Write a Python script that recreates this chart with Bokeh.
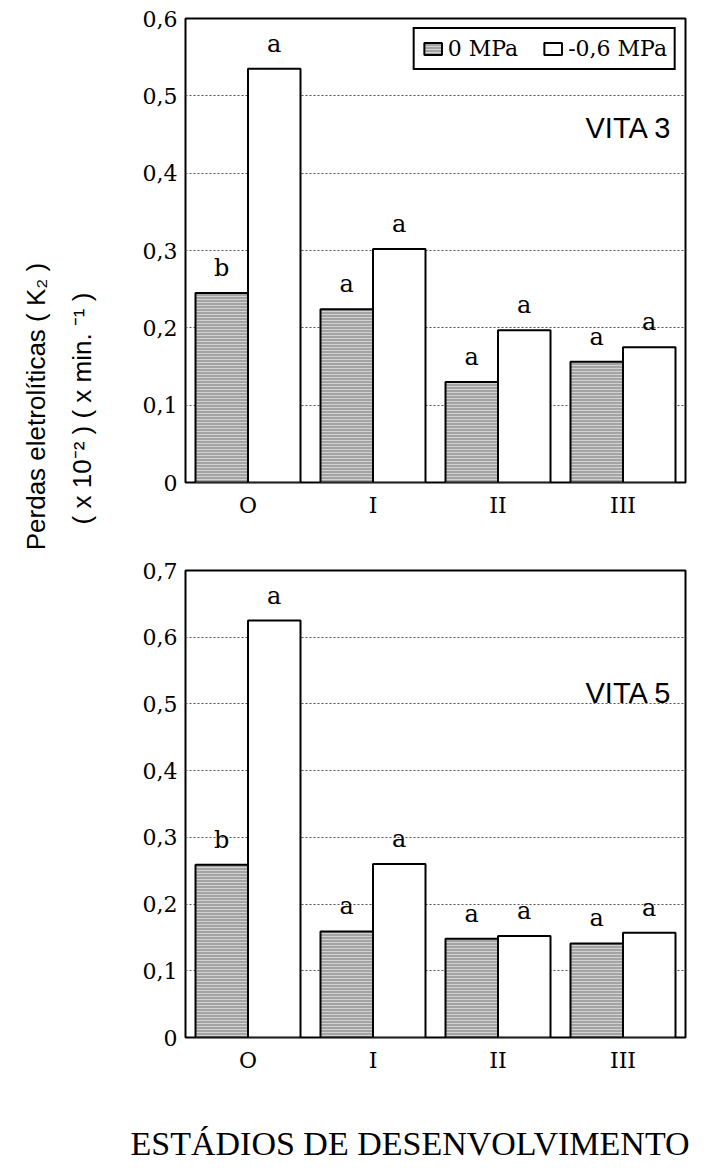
from bokeh.plotting import figure
from bokeh.models import (ColumnDataSource, FactorRange, Range1d, FixedTicker, Label,
                          Legend, LegendItem, Title)
from bokeh.layouts import row, column
from bokeh.transform import dodge
from bokeh.core.properties import value
from bokeh.embed import file_html
from bokeh.resources import INLINE
import math

# ---------------- data ----------------
stages = ["O", "I", "II", "III"]
series_names = ["0 MPa", "-0,6 MPa"]

vita3_0mpa = [0.245, 0.224, 0.130, 0.156]
vita3_06mpa = [0.535, 0.302, 0.197, 0.175]
vita3_let_0 = ["b", "a", "a", "a"]
vita3_let_06 = ["a", "a", "a", "a"]

vita5_0mpa = [0.259, 0.159, 0.148, 0.141]
vita5_06mpa = [0.625, 0.260, 0.152, 0.157]
vita5_let_0 = ["b", "a", "a", "a"]
vita5_let_06 = ["a", "a", "a", "a"]

yticks_top = [0, 0.1, 0.2, 0.3, 0.4, 0.5, 0.6]
ylabels_top = ["0", "0,1", "0,2", "0,3", "0,4", "0,5", "0,6"]
yticks_bot = [0, 0.1, 0.2, 0.3, 0.4, 0.5, 0.6, 0.7]
ylabels_bot = ["0", "0,1", "0,2", "0,3", "0,4", "0,5", "0,6", "0,7"]

SERIF = "DejaVu Serif"
GREY = "#a3a3a3"


def panel(v0, v6, l0, l6, ymax, yticks, ylabels, title, height, bt, bb, title_y, legend=False):
    src = ColumnDataSource(dict(stage=stages, v0=v0, v6=v6, l0=l0, l6=l6))
    p = figure(x_range=FactorRange(*stages), y_range=Range1d(0, ymax),
               width=600, height=height, min_border_left=77, min_border_right=23,
               min_border_top=bt, min_border_bottom=bb,
               output_backend="svg", toolbar_location=None)
    p.x_range.range_padding = 0
    g = p.vbar(x=dodge("stage", -0.21, range=p.x_range), top="v0", width=0.42, source=src,
               fill_color=GREY, hatch_pattern="horizontal_line", hatch_color="#d2d2d2",
               hatch_scale=3, hatch_weight=1, line_color="black", line_width=2)
    w = p.vbar(x=dodge("stage", 0.21, range=p.x_range), top="v6", width=0.42, source=src,
               fill_color="white", line_color="black", line_width=2)
    for col, off, top in (("l0", -0.21, "v0"), ("l6", 0.21, "v6")):
        p.text(x=dodge("stage", off, range=p.x_range), y=top, text=col, source=src,
               text_align="center", text_baseline="bottom", y_offset=-11,
               text_font=value(SERIF), text_font_size="24px", text_color="black")

    p.outline_line_color = "black"
    p.outline_line_width = 2
    p.xgrid.grid_line_color = None
    p.ygrid.ticker = FixedTicker(ticks=yticks)
    p.ygrid.grid_line_color = "#555555"
    p.ygrid.grid_line_dash = "2 2"
    p.ygrid.grid_line_width = 1

    p.yaxis.ticker = FixedTicker(ticks=yticks)
    p.yaxis.major_label_overrides = dict(zip(yticks, ylabels))
    for ax in (p.xaxis[0], p.yaxis[0]):
        ax.axis_line_color = None
        ax.major_tick_line_color = None
        ax.minor_tick_line_color = None
        ax.major_tick_out = 0
        ax.major_tick_in = 0
        ax.major_label_text_font = SERIF
        ax.major_label_text_color = "black"
    p.yaxis.major_label_text_font_size = "22px"
    p.yaxis.major_label_standoff = 8
    p.xaxis.major_label_text_font_size = "22px"
    p.xaxis.major_label_standoff = 10

    p.add_layout(Label(x=3.2, y=title_y, text=title, text_font="Liberation Sans",
                       text_font_size="29px", text_baseline="middle", text_align="left",
                       text_color="black"))
    if legend:
        lg = Legend(items=[LegendItem(label=series_names[0], renderers=[g]),
                           LegendItem(label=series_names[1], renderers=[w])],
                    orientation="horizontal", location="top_right",
                    border_line_color="black", border_line_width=2, border_line_alpha=1,
                    label_text_font=SERIF, label_text_font_size="22px",
                    label_text_color="black",
                    glyph_width=22, glyph_height=15, label_standoff=4, spacing=24,
                    padding=7, margin=9, background_fill_alpha=1)
        p.add_layout(lg)
    return p


p1 = panel(vita3_0mpa, vita3_06mpa, vita3_let_0, vita3_let_06, 0.6, yticks_top, ylabels_top,
           "VITA  3", 556, 18, 74, 0.459, legend=True)
p2 = panel(vita5_0mpa, vita5_06mpa, vita5_let_0, vita5_let_06, 0.7, yticks_bot, ylabels_bot,
           "VITA  5", 612, 14, 131, 0.516)

# x-axis title under the lower panel
p2.xaxis.axis_label = " "
p2.xaxis.axis_label_text_font_size = "10px"
p2.xaxis.axis_label_standoff = 28
p2.add_layout(Title(text="ESTÁDIOS DE DESENVOLVIMENTO", align="left", offset=-55,
                    text_font="Liberation Serif", text_font_size="34px",
                    text_font_style="normal", text_color="black"), "below")

# left strip with the y-axis title (page coordinates)
lab = figure(width=108, height=1168, x_range=Range1d(0, 108), y_range=Range1d(1168, 0),
             x_axis_location=None, y_axis_location=None, min_border=0,
             output_backend="svg", toolbar_location=None)
lab.grid.grid_line_color = None
lab.outline_line_color = None
lab.add_layout(Label(x=35, y=406, text="Perdas eletrolíticas ( K₂ )", angle=math.pi / 2,
                     text_align="center", text_baseline="middle", text_font="Liberation Sans",
                     text_font_size="26px", text_color="black"))
lab.add_layout(Label(x=81, y=408, text="( x 10⁻² ) ( x min. ⁻¹ )", angle=math.pi / 2,
                     text_align="center", text_baseline="middle", text_font="Liberation Sans",
                     text_font_size="26px", text_color="black"))

layout = row(lab, column(p1, p2))
open("out.html", "w").write(file_html(layout, INLINE))
